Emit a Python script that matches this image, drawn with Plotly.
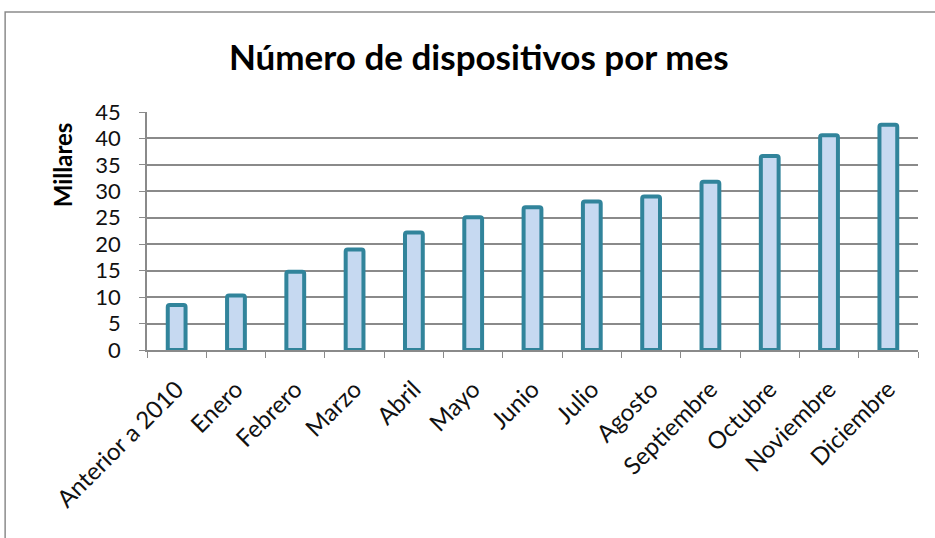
import plotly.graph_objects as go

# monthly device counts (thousands)
meses = ["Anterior a 2010", "Enero", "Febrero", "Marzo", "Abril", "Mayo", "Junio",
         "Julio", "Agosto", "Septiembre", "Octubre", "Noviembre", "Diciembre"]
dispositivos = [8.5, 10.3, 14.8, 19.0, 22.2, 25.1, 27.0, 28.1, 29.0, 31.8, 36.7, 40.6, 42.6]
y_ticks = [0, 5, 10, 15, 20, 25, 30, 35, 40, 45]

FILL = "#c6d9f1"
EDGE = "#31849b"
GRID = "#8a8a8a"
FONT = "Lato, Open Sans, sans-serif"

fig = go.Figure()
fig.add_trace(go.Bar(
    x=meses, y=dispositivos, width=0.3,
    marker=dict(color=FILL, line=dict(color=EDGE, width=4), cornerradius=2),
))

fig.update_layout(
    width=935, height=538,
    paper_bgcolor="white", plot_bgcolor="white",
    margin=dict(l=147, r=17, t=112, b=188),
    showlegend=False,
    title=dict(text="<b>Número de dispositivos por mes</b>", x=0.512, xanchor="center",
               y=0.892, yanchor="middle",
               font=dict(family=FONT, size=35, color="black")),
    xaxis=dict(type="category", tickangle=-45, ticks="outside", tickson="boundaries",
               ticklen=6, tickcolor=GRID, showline=True, linecolor=GRID, linewidth=1.5,
               ticklabelstandoff=14,
               tickfont=dict(family=FONT, size=24, color="#111111")),
    yaxis=dict(range=[0, 45], tickvals=y_ticks, ticks="outside", ticklen=6,
               tickcolor=GRID, showline=True, linecolor=GRID, linewidth=1.5,
               gridcolor=GRID, gridwidth=1.5, zeroline=False,
               ticklabelstandoff=14,
               tickfont=dict(family=FONT, size=22, color="#111111")),
    shapes=[dict(type="rect", xref="paper", yref="paper",
                 x0=-0.184, x1=1.2, y0=-1.5, y1=1.42,
                 line=dict(color="#8c8c8c", width=1.5), layer="below")],
    annotations=[dict(text="<b>Millares</b>", xref="paper", yref="paper",
                      x=-0.110, y=0.777, xanchor="center", yanchor="middle",
                      textangle=-90, showarrow=False,
                      font=dict(family=FONT, size=24, color="black"))],
)

# drop the default page margin so the chart sits at the window's corner
fig.write_html("out.html", config={"displayModeBar": False},
               post_script="document.body.style.margin='0';")
